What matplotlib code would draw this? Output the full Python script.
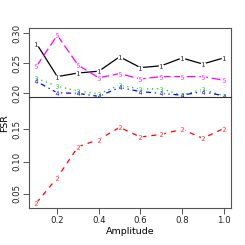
import matplotlib
matplotlib.use('Agg')
import matplotlib.pyplot as plt

amplitude = [0.1, 0.2, 0.3, 0.4, 0.5, 0.6, 0.7, 0.8, 0.9, 1.0]
fsr_1 = [0.283, 0.228, 0.234, 0.237, 0.261, 0.243, 0.246, 0.259, 0.249, 0.259]
fsr_2 = [0.036, 0.075, 0.123, 0.134, 0.153, 0.138, 0.142, 0.150, 0.136, 0.151]
fsr_3 = [0.225, 0.212, 0.204, 0.199, 0.214, 0.207, 0.208, 0.197, 0.207, 0.196]
fsr_4 = [0.220, 0.201, 0.200, 0.195, 0.210, 0.203, 0.200, 0.197, 0.203, 0.196]
fsr_5 = [0.245, 0.297, 0.247, 0.226, 0.233, 0.224, 0.228, 0.228, 0.228, 0.222]

# estilos tipo R: lty 1..5, colores 1..6
estilos = {
    '1': (fsr_1, 'black', '-'),
    '3': (fsr_3, '#00CD00', (0, (1, 3))),
    '4': (fsr_4, '#0000FF', (0, (1, 3, 4, 3))),
    '5': (fsr_5, '#FF00FF', (0, (7, 3))),
}

W = 245
fig = plt.figure(figsize=(2.45, 2.45), dpi=100)
ax_top = fig.add_axes([29/W, 1-97/W, 202/W, 69/W])
ax_bot = fig.add_axes([29/W, 1-208/W, 202/W, 111/W])

col_eje = '#555555'

def serie(ax, y, color, ls, label):
    ax.plot(amplitude, y, color=color, ls=ls, lw=0.9, zorder=2)
    ax.plot(amplitude, y, ls='none', marker='o', ms=4, mfc='white', mec='none', zorder=3)
    ax.plot(amplitude, y, ls='none', marker='$' + label + '$', ms=3.2,
            color=color, mew=0, zorder=4)

for lab, (y, c, ls) in estilos.items():
    serie(ax_top, y, c, ls, lab)
serie(ax_bot, fsr_2, '#FF0000', (0, (4, 4)), '2')

for ax in (ax_top, ax_bot):
    ax.set_xlim(0.064, 1.036)
    for s in ax.spines.values():
        s.set_color(col_eje)
        s.set_linewidth(0.8)
    ax.tick_params(colors=col_eje, labelcolor='#222222', labelsize=6.2,
                   length=4, width=0.7, direction='out', pad=1.5)

ax_top.set_ylim(0.194, 0.309)
ax_top.set_yticks([0.20, 0.25, 0.30])
ax_top.set_yticklabels(['0.20', '0.25', '0.30'], rotation=90, va='center')
ax_top.set_xticks([])
ax_top.spines['bottom'].set_visible(False)

ax_bot.set_ylim(0.028, 0.200)
ax_bot.set_yticks([0.05, 0.10, 0.15])
ax_bot.set_yticklabels(['0.05', '0.10', '0.15'], rotation=90, va='center')
ax_bot.set_xticks([0.2, 0.4, 0.6, 0.8, 1.0])
ax_bot.set_xticklabels(['0.2', '0.4', '0.6', '0.8', '1.0'])
ax_bot.spines['top'].set_color('#333333')
ax_bot.set_xlabel('Amplitude', fontsize=6.8, labelpad=2)

fig.text(5/W, 1-123/W, 'FSR', rotation=90, ha='center', va='center', fontsize=6.8)

fig.savefig('out.png', dpi=100)
